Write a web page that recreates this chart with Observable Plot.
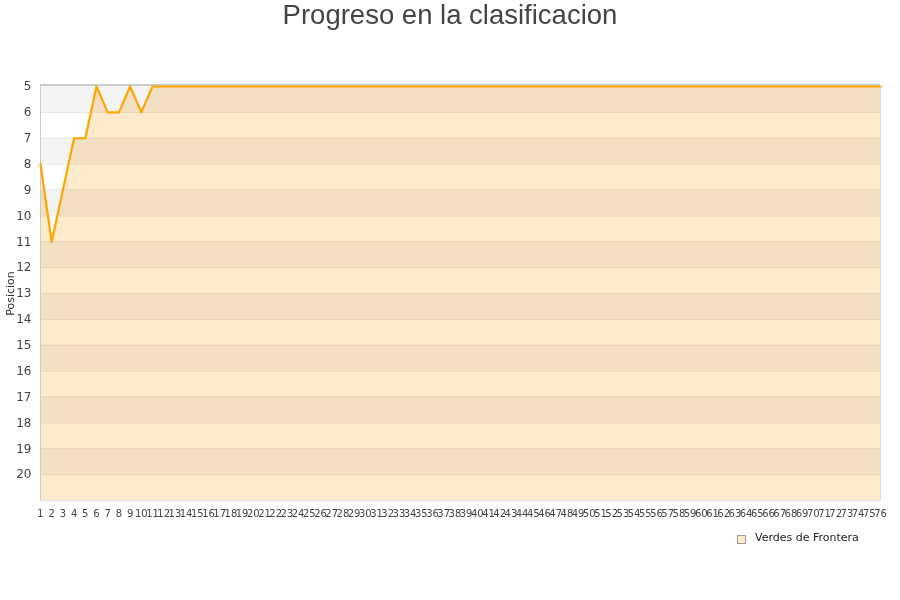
<!DOCTYPE html>
<html>
<head>
<meta charset="utf-8">
<script src="https://cdn.jsdelivr.net/npm/d3@7"></script>
<script src="https://cdn.jsdelivr.net/npm/@observablehq/plot@0.6"></script>
<style>
  html, body { margin: 0; padding: 0; background: #fff; }
  #title { height: 36px; line-height: 30px; font-family: "Liberation Sans", Arial, sans-serif; font-size: 27.5px; color: #444; text-align: center; }
  #legend { position: relative; height: 40px; font-family: "DejaVu Sans", sans-serif; font-size: 11px; color: #222; }
  #legend .sw { position: absolute; left: 737px; top: 15px; width: 7px; height: 7px; background: #FEEBCB; border: 1px solid #999; }
  #legend .lb { position: absolute; left: 755px; top: 11px; }
</style>
</head>
<body>
<div id="title">Progreso en la clasificacion</div>
<div id="chart"></div>
<div id="legend"><span class="sw"></span><span class="lb">Verdes de Frontera</span></div>
<script>
const rounds = [1,2,3,4,5,6,7,8,9,10,11,12,13,14,15,16,17,18,19,20,21,22,23,24,25,26,27,28,29,30,31,32,33,34,35,36,37,38,39,40,41,42,43,44,45,46,47,48,49,50,51,52,53,54,55,56,57,58,59,60,61,62,63,64,65,66,67,68,69,70,71,72,73,74,75,76];
const positions = [8,11,9,7,7,5,6,6,5,6,5,5,5,5,5,5,5,5,5,5,5,5,5,5,5,5,5,5,5,5,5,5,5,5,5,5,5,5,5,5,5,5,5,5,5,5,5,5,5,5,5,5,5,5,5,5,5,5,5,5,5,5,5,5,5,5,5,5,5,5,5,5,5,5,5,5];
const yTicks = [5,6,7,8,9,10,11,12,13,14,15,16,17,18,19,20];
const bandStarts = [5,6,7,8,9,10,11,12,13,14,15,16,17,18,19,20];
const teamName = "Verdes de Frontera";
const yTitle = "Posicion";

const data = rounds.map((r, i) => ({round: r, pos: positions[i]}));
const bands = bandStarts.map(k => ({k, odd: k % 2 === 1}));

const chart = Plot.plot({
  width: 900,
  height: 484,
  marginTop: 50,
  marginLeft: 40,
  marginRight: 20,
  marginBottom: 20,
  style: {fontFamily: "DejaVu Sans, sans-serif", color: "#444", background: "#fff"},
  x: {domain: [1, 76], axis: null},
  y: {domain: [5, 21], reverse: true, axis: null},
  marks: [
    Plot.rect(bands, {x1: () => 1, x2: () => 76, y1: "k", y2: d => d.k + 1, fill: d => d.odd ? "#F4F4F4" : "#FFFFFF"}),
    Plot.ruleY(yTicks.slice(1), {x1: 1, x2: 76, stroke: "#e6e6e6", strokeWidth: 1}),
    Plot.areaY(data, {x: "round", y1: () => 21, y2: "pos", fill: "#FEEBCB", mixBlendMode: "multiply", curve: "linear"}),
    Plot.ruleX([1], {y1: 5, y2: 21, stroke: "#ccc"}),
    Plot.ruleX([76], {y1: 5, y2: 21, stroke: "#ddd"}),
    Plot.ruleY([21], {x1: 1, x2: 76, stroke: "#ddd"}),
    Plot.ruleY([5], {x1: 1, x2: 76, stroke: "#999", dy: -1.5}),
    Plot.line(data, {x: "round", y: "pos", stroke: "#FFA500", strokeWidth: 2.2}),
    Plot.axisY(yTicks, {tickSize: 0, tickPadding: 9, fontSize: 12, fill: "#444", label: null}),
    Plot.axisX(rounds, {tickSize: 0, tickPadding: 9, fontSize: 10, fill: "#444", label: null, style: {letterSpacing: "-0.7px"}}),
    Plot.text([yTitle], {frameAnchor: "left", dx: -30, rotate: -90, textAnchor: "middle", fontSize: 11, fill: "#333", text: d => d})
  ]
});
document.getElementById("chart").appendChild(chart);
</script>
</body>
</html>
